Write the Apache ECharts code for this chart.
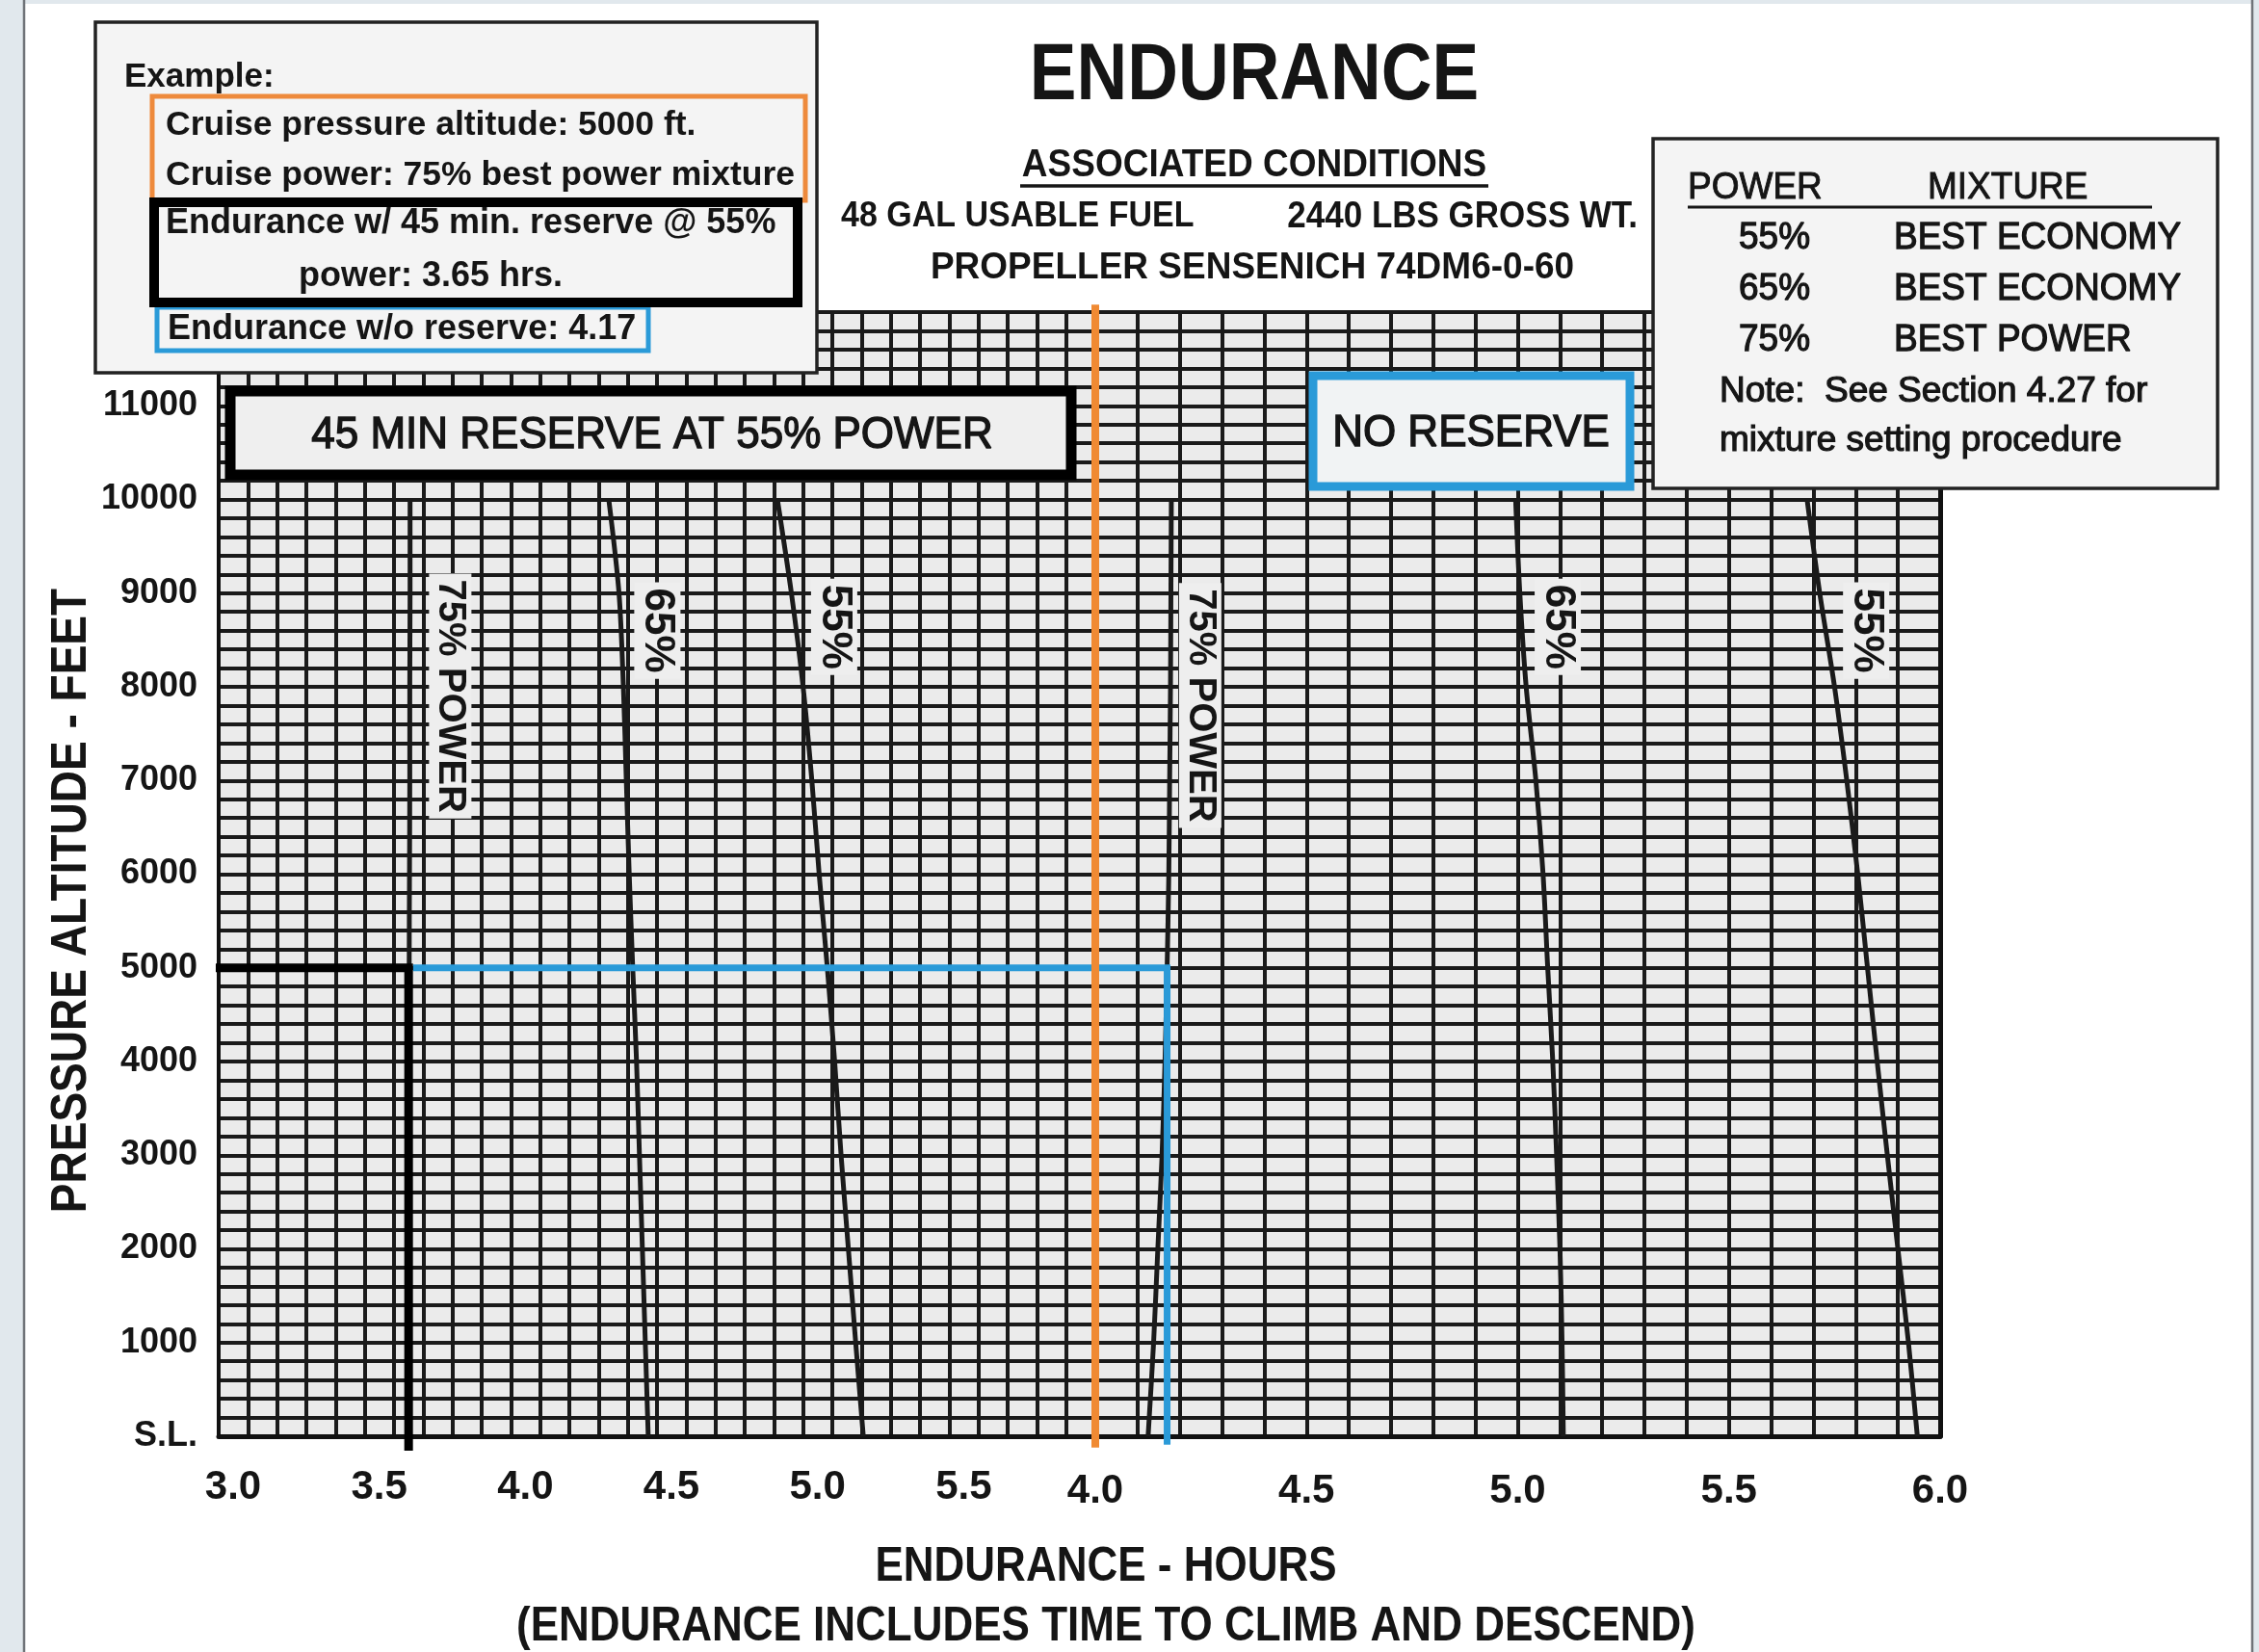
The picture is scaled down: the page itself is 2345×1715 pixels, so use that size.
<!DOCTYPE html>
<html><head><meta charset="utf-8">
<script src="https://cdn.jsdelivr.net/npm/echarts@6/dist/echarts.min.js"></script>
<style>html,body{margin:0;padding:0;background:#fff}#c{width:2345px;height:1715px}</style>
</head><body><div id="c"></div>
<script>
// ---- data (pressure altitude in feet, endurance in hours) ----
const altitudes = [10000, 9000, 8000, 7000, 6000, 5000, 4000, 3000, 2000, 1000, 0];
// 45 MIN RESERVE AT 55% POWER (left scale 3.0 - 6.0 h)
const reserve75 = [3.655, 3.655, 3.654, 3.654, 3.653, 3.652, 3.652, 3.651, 3.651, 3.650, 3.650];
const reserve65 = [4.335, 4.370, 4.385, 4.395, 4.405, 4.417, 4.430, 4.440, 4.450, 4.460, 4.470];
const reserve55 = [4.912, 4.960, 5.000, 5.030, 5.055, 5.083, 5.108, 5.130, 5.155, 5.180, 5.206];
// NO RESERVE (right scale 4.0 - 6.0 h)
const noReserve75 = [4.180, 4.179, 4.178, 4.176, 4.174, 4.170, 4.165, 4.158, 4.148, 4.138, 4.125];
const noReserve65 = [4.995, 5.005, 5.020, 5.043, 5.060, 5.071, 5.083, 5.092, 5.100, 5.105, 5.108];
const noReserve55 = [5.685, 5.715, 5.750, 5.779, 5.805, 5.828, 5.851, 5.875, 5.900, 5.925, 5.946];
// example
const exampleAltitude = 5000;
const reserveResult = 3.65;
const noReserveResult = 4.17;
// axes
const leftHours = [3.0, 6.0];
const rightHours = [4.0, 6.0];
const altRange = [0, 12000];
const curveNames = ['75% POWER', '65%', '55%', '75% POWER', '65%', '55%'];
const mixtureRows = [['55%', 'BEST ECONOMY'], ['65%', 'BEST ECONOMY'], ['75%', 'BEST POWER']];

const FF = "'Liberation Sans', Arial, Helvetica, sans-serif";
const INK = '#151515';
const BLUE = '#2a9ad8';
const ORANGE = '#f08a33';

const chart = echarts.init(document.getElementById('c'), null, {renderer: 'canvas'});

const gridLine = {show: true, lineStyle: {color: '#1a1a1a', width: 4}};
function xLabelFmt(isLeft) {
  return function (v) {
    const t = Math.round(v * 10);
    if (t % 5 !== 0) return '';
    if (isLeft && t >= 60) return '';
    return (t / 10).toFixed(1);
  };
}
function yLabelFmt(v) {
  const r = Math.round(v);
  if (r % 1000 !== 0) return '';
  if (r === 0) return 'S.L.';
  if (r >= 12000) return '';
  return String(r);
}

const curves = [
  {xs: reserve75, g: 0, label: curveNames[0], alt: 7900, dx: 42, size: 40},
  {xs: reserve65, g: 0, label: curveNames[1], alt: 8600, dx: 38, size: 44},
  {xs: reserve55, g: 0, label: curveNames[2], alt: 8640, dx: 40, size: 44},
  {xs: noReserve75, g: 1, label: curveNames[3], alt: 7800, dx: 31, size: 40},
  {xs: noReserve65, g: 1, label: curveNames[4], alt: 8640, dx: 37, size: 44},
  {xs: noReserve55, g: 1, label: curveNames[5], alt: 8600, dx: 42, size: 44}
];

const series = curves.map(c => ({
  type: 'line', xAxisIndex: c.g, yAxisIndex: c.g,
  data: altitudes.map((a, i) => [c.xs[i], a]),
  smooth: 0.3, symbol: 'none', silent: true,
  lineStyle: {color: '#1a1a1a', width: 5}, z: 5
}));
// example construction lines
series.push({
  type: 'line', xAxisIndex: 0, yAxisIndex: 0, clip: false, symbol: 'none', z: 12,
  data: [[leftHours[0] - 0.01, exampleAltitude], [reserveResult, exampleAltitude], [reserveResult, -155]],
  lineStyle: {color: '#000', width: 9, join: 'miter', cap: 'butt'}
});
series.push({
  type: 'line', xAxisIndex: 0, yAxisIndex: 0, clip: false, symbol: 'none', z: 10,
  data: [[reserveResult + 0.015, exampleAltitude], [leftHours[1], exampleAltitude]],
  lineStyle: {color: BLUE, width: 7}
});
series.push({
  type: 'line', xAxisIndex: 1, yAxisIndex: 1, clip: false, symbol: 'none', z: 10,
  data: [[rightHours[0], exampleAltitude], [noReserveResult, exampleAltitude], [noReserveResult, -90]],
  lineStyle: {color: BLUE, width: 7, join: 'miter'}
});
series.push({
  type: 'line', xAxisIndex: 1, yAxisIndex: 1, clip: false, symbol: 'none', z: 14,
  data: [[rightHours[0], 12080], [rightHours[0], -120]],
  lineStyle: {color: ORANGE, width: 8}
});

const option = {
  animation: false,
  backgroundColor: '#ffffff',
  grid: [
    {left: 227, top: 324, width: 910, height: 1167, show: true, backgroundColor: '#ebebeb', borderWidth: 0, containLabel: false},
    {left: 1137, top: 324, width: 877, height: 1167, show: true, backgroundColor: '#ebebeb', borderWidth: 0, containLabel: false}
  ],
  xAxis: [
    {type: 'value', gridIndex: 0, min: leftHours[0], max: leftHours[1], interval: 0.1,
     axisLine: {show: true, lineStyle: {color: '#111', width: 5}}, axisTick: {show: false},
     splitLine: gridLine,
     axisLabel: {formatter: xLabelFmt(true), color: INK, fontFamily: FF, fontWeight: 'bold', fontSize: 42, margin: 32, padding: [0, 0, 0, 30]}},
    {type: 'value', gridIndex: 1, min: rightHours[0], max: rightHours[1], interval: 0.1,
     axisLine: {show: true, lineStyle: {color: '#111', width: 5}}, axisTick: {show: false},
     splitLine: gridLine,
     axisLabel: {formatter: xLabelFmt(false), color: INK, fontFamily: FF, fontWeight: 'bold', fontSize: 42, margin: 36}}
  ],
  yAxis: [
    {type: 'value', gridIndex: 0, min: altRange[0], max: altRange[1], interval: 200,
     axisLine: {show: true, lineStyle: {color: '#111', width: 4}}, axisTick: {show: false},
     splitLine: gridLine,
     axisLabel: {formatter: yLabelFmt, color: INK, fontFamily: FF, fontWeight: 'bold', fontSize: 36, margin: 22}},
    {type: 'value', gridIndex: 1, min: altRange[0], max: altRange[1], interval: 200, position: 'right',
     axisLine: {show: true, lineStyle: {color: '#111', width: 5}}, axisTick: {show: false},
     splitLine: gridLine, axisLabel: {show: false}}
  ],
  series: series
};
chart.setOption(option);

// ---- annotations ----
const g = [];
function rect(x, y, w, h, fill, stroke, lw, z) {
  g.push({type: 'rect', z: z || 100, shape: {x: x, y: y, width: w, height: h}, style: {fill: fill, stroke: stroke, lineWidth: lw}});
}
function text(t, x, y, size, weight, align, opts) {
  opts = opts || {};
  const el = {type: 'text', z: opts.z || 102, x: x, y: y,
    style: {text: t, fontSize: size, fontWeight: weight, fontFamily: FF, fill: INK, align: align || 'left', verticalAlign: 'middle'}};
  if (opts.rotation) el.rotation = opts.rotation;
  if (opts.sy) { el.scaleY = opts.sy; }
  if (opts.sx) { el.scaleX = opts.sx; }
  if (opts.heavy) { el.style.stroke = INK; el.style.lineWidth = opts.heavy; }
  if (opts.bg) { el.style.backgroundColor = opts.bg; el.style.padding = opts.pad || [2, 6]; }
  g.push(el);
}
function line(x1, y1, x2, y2, w, color) {
  g.push({type: 'line', z: 102, shape: {x1: x1, y1: y1, x2: x2, y2: y2}, style: {stroke: color || INK, lineWidth: w}});
}

// page frame
g.push({type: 'rect', z: 1, shape: {x: 0, y: 0, width: 24, height: 1715}, style: {fill: '#e1e8ed'}});
g.push({type: 'rect', z: 1, shape: {x: 2339, y: 0, width: 6, height: 1715}, style: {fill: '#e1e8ed'}});
g.push({type: 'rect', z: 1, shape: {x: 0, y: 0, width: 2345, height: 4}, style: {fill: '#e1e8ed'}});
line(25, 0, 25, 1715, 2.5, '#6f7378');
line(2338, 0, 2338, 1715, 2.5, '#6f7378');

// title block
text('ENDURANCE', 1302, 80, 73, 'bold', 'center', {sy: 1.15});
text('ASSOCIATED CONDITIONS', 1302, 172, 37, 'bold', 'center', {sy: 1.12});
line(1059, 193, 1545, 193, 3.5);
text('48 GAL USABLE FUEL', 873, 225, 34, 'bold', 'left', {sy: 1.1});
text('2440 LBS GROSS WT.', 1700, 225, 35, 'bold', 'right', {sy: 1.1});
text('PROPELLER SENSENICH 74DM6-0-60', 1300, 278, 37, 'bold', 'center', {sy: 1.05});

// example box
rect(99, 23, 749, 364, '#f4f4f4', '#222', 3.5);
text('Example:', 129, 80, 35, 'bold', 'left');
rect(158, 100, 678, 108, null, '#ee8a3c', 5, 101);
text('Cruise pressure altitude: 5000 ft.', 172, 130, 35.5, 'bold', 'left');
text('Cruise power: 75% best power mixture', 172, 182, 35.5, 'bold', 'left');
rect(160, 210, 668, 104, null, '#000', 10, 103);
text('Endurance w/ 45 min. reserve @ 55%', 172, 232, 36, 'bold', 'left');
text('power: 3.65 hrs.', 310, 287, 36, 'bold', 'left');
rect(163, 319, 510, 45, null, BLUE, 5, 101);
text('Endurance w/o reserve: 4.17', 174, 342, 36, 'bold', 'left');

// mixture box
rect(1716, 144, 586, 363, '#f4f4f4', '#222', 3.5);
text('POWER', 1752, 195, 37, 'normal', 'left', {sy: 1.05, heavy: 0.9});
text('MIXTURE', 2001, 195, 37, 'normal', 'left', {sy: 1.05, heavy: 0.9});
line(1752, 215, 2234, 215, 3);
mixtureRows.forEach((r, i) => {
  const y = 247 + i * 53;
  text(r[0], 1805, y, 37, 'normal', 'left', {sy: 1.05, heavy: 1.2});
  text(r[1], 1966, y, 37, 'normal', 'left', {sy: 1.05, heavy: 1.2});
});
text('Note:  See Section 4.27 for', 1785, 407, 37, 'normal', 'left', {heavy: 1.2});
text('mixture setting procedure', 1785, 458, 37, 'normal', 'left', {heavy: 1.2});

// section boxes
rect(239, 406, 873, 87, '#efefef', '#000', 11);
text('45 MIN RESERVE AT 55% POWER', 677, 452, 44, 'normal', 'center', {sy: 1.06, heavy: 1.3});
rect(1363, 390, 329, 115, '#f1f3f4', BLUE, 9);
text('NO RESERVE', 1527, 450, 44, 'normal', 'center', {sy: 1.06, heavy: 1.3});

// axis titles
text('PRESSURE ALTITUDE - FEET', 75, 935, 46, 'bold', 'center', {rotation: Math.PI / 2, sy: 1.12});
text('ENDURANCE - HOURS', 1148, 1627, 44, 'bold', 'center', {sy: 1.15});
text('(ENDURANCE INCLUDES TIME TO CLIMB AND DESCEND)', 1148, 1689, 44, 'bold', 'center', {sy: 1.15});

// curve labels, placed from the curve data via the axes
function interpX(xs, alt) {
  for (let i = 0; i < altitudes.length - 1; i++) {
    const a0 = altitudes[i], a1 = altitudes[i + 1];
    if (alt <= a0 && alt >= a1) {
      const t = (a0 - alt) / (a0 - a1);
      return xs[i] + t * (xs[i + 1] - xs[i]);
    }
  }
  return xs[0];
}
curves.forEach(c => {
  const p = chart.convertToPixel({gridIndex: c.g}, [interpX(c.xs, c.alt), c.alt]);
  text(c.label, p[0] + c.dx, p[1], c.size, 'bold', 'center', {rotation: -Math.PI / 2, bg: '#eeeeee', pad: [2, 6], z: 20});
});

chart.setOption({graphic: {elements: g}});
</script>
</body></html>
